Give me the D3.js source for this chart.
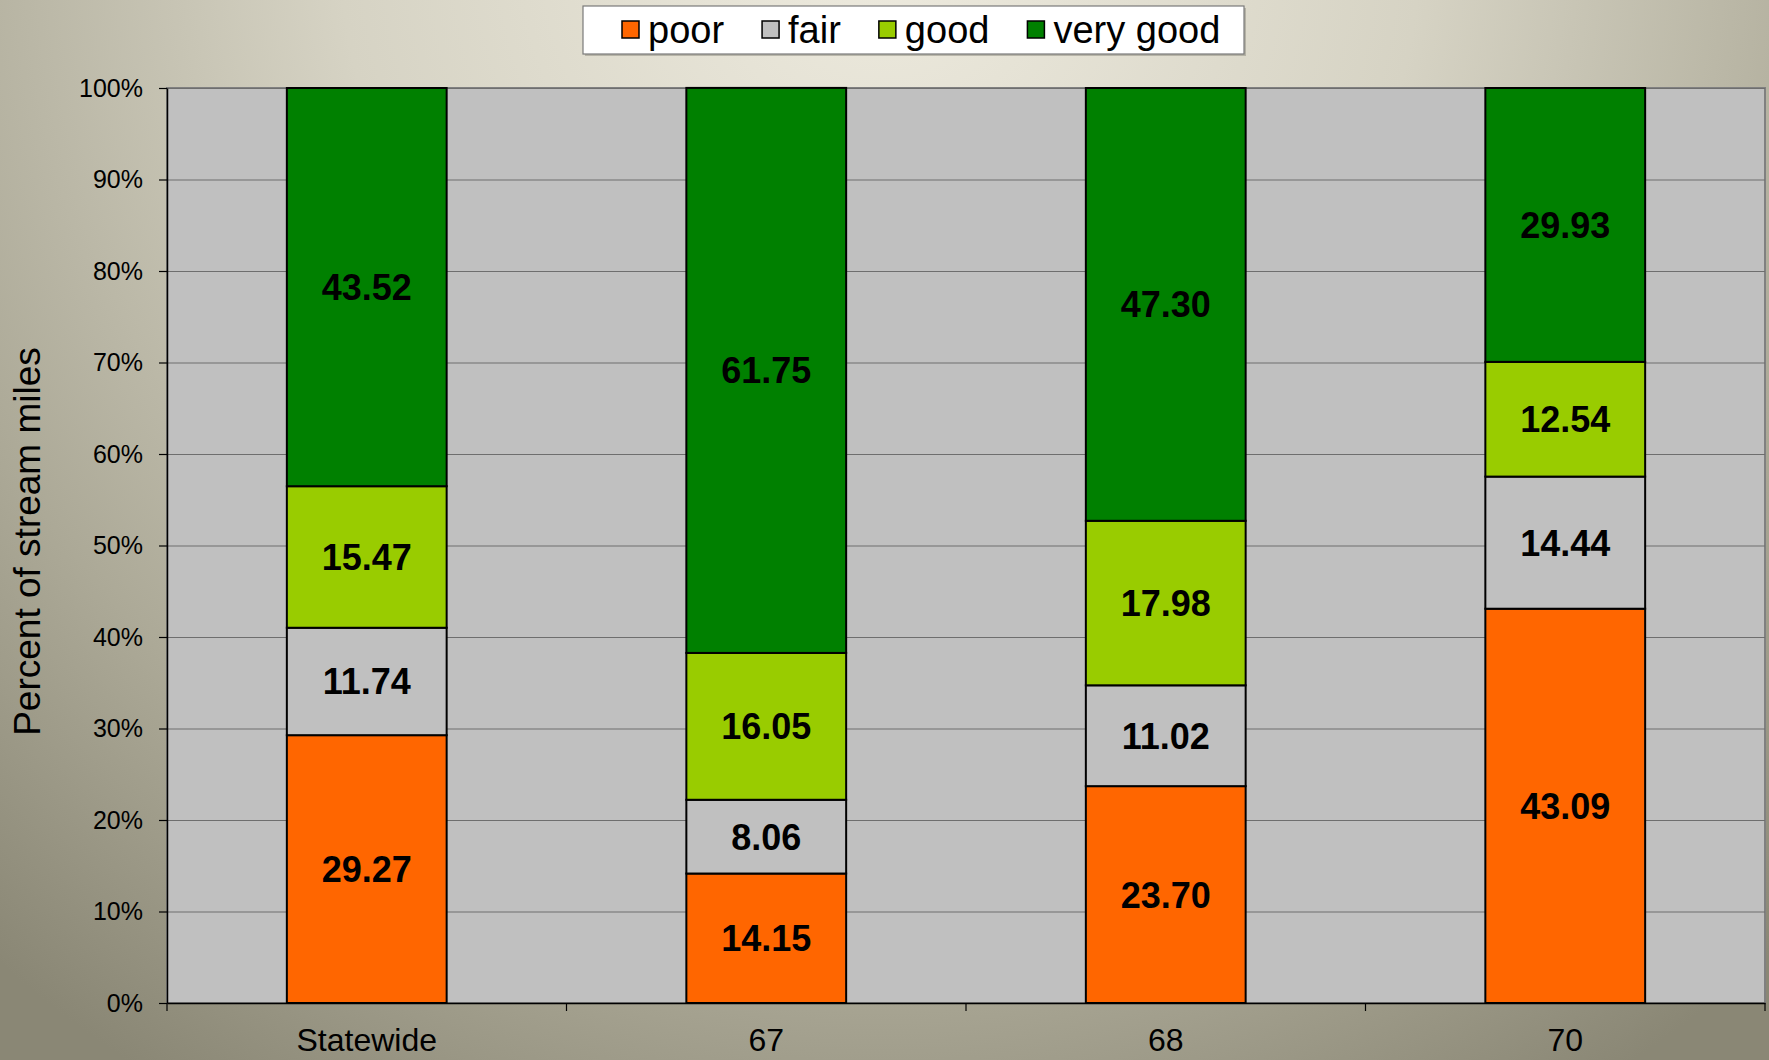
<!DOCTYPE html>
<html>
<head>
<meta charset="utf-8">
<script src="https://cdn.jsdelivr.net/npm/d3@7"></script>
<style>
  body { margin: 0; padding: 0; overflow: hidden; }
  svg { display: block; font-family: "Liberation Sans", Arial, sans-serif; }
</style>
</head>
<body>
<svg id="chart" width="1769" height="1060"></svg>
<script>
// data
var categories = ["Statewide", "67", "68", "70"];
var seriesNames = ["poor", "fair", "good", "very good"];
var seriesColors = ["#FF6600", "#C0C0C0", "#99CC00", "#008000"];
var poor     = [29.27, 14.15, 23.70, 43.09];
var fair     = [11.74,  8.06, 11.02, 14.44];
var good     = [15.47, 16.05, 17.98, 12.54];
var veryGood = [43.52, 61.75, 47.30, 29.93];
var yTicks = [0, 10, 20, 30, 40, 50, 60, 70, 80, 90, 100];

var seriesValues = [poor, fair, good, veryGood];
var rows = categories.map(function (c, i) {
    var r = { cat: c };
    seriesNames.forEach(function (s, j) { r[s] = seriesValues[j][i]; });
    return r;
});

var svg = d3.select("#chart"),
    W = +svg.attr("width"),
    H = +svg.attr("height");

// background gradient
var defs = svg.append("defs");
var bg = defs.append("radialGradient").attr("id", "bg")
    .attr("gradientUnits", "userSpaceOnUse")
    .attr("cx", 880).attr("cy", -60).attr("r", 1350);
bg.append("stop").attr("offset", "0%").attr("stop-color", "#EEEBDF");
bg.append("stop").attr("offset", "40%").attr("stop-color", "#D6D3C4");
bg.append("stop").attr("offset", "75%").attr("stop-color", "#ACA997");
bg.append("stop").attr("offset", "100%").attr("stop-color", "#8A8775");
svg.append("rect").attr("width", W).attr("height", H).attr("fill", "url(#bg)");

var plotL = 167, plotR = 1765, plotT = 88, plotB = 1003;

var x = d3.scaleBand().domain(categories).range([plotL, plotR]).padding(0);
var y = d3.scaleLinear().domain([0, 100]).range([plotB, plotT]);

// plot area
svg.append("rect")
    .attr("x", plotL).attr("y", plotT)
    .attr("width", plotR - plotL).attr("height", plotB - plotT)
    .attr("fill", "#C0C0C0")
    .attr("stroke", "#808080").attr("stroke-width", 2);

// gridlines
svg.append("g")
    .attr("transform", "translate(" + plotL + ",0)")
    .call(d3.axisLeft(y).tickValues(yTicks).tickFormat("").tickSizeInner(-(plotR - plotL)).tickSizeOuter(0))
    .call(function (g) {
        g.select(".domain").remove();
        g.selectAll("line").attr("stroke", "#6E6E6E").attr("stroke-width", 1.2);
    });

// bars
var stacked = d3.stack().keys(seriesNames)(rows);
var barW = x.bandwidth() * 0.4;

var layers = svg.append("g").selectAll("g")
    .data(stacked)
    .enter().append("g")
    .attr("fill", function (d, i) { return seriesColors[i]; });

layers.selectAll("rect")
    .data(function (d) { return d; })
    .enter().append("rect")
    .attr("x", function (d) { return x(d.data.cat) + (x.bandwidth() - barW) / 2; })
    .attr("y", function (d) { return y(d[1]); })
    .attr("width", barW)
    .attr("height", function (d) { return y(d[0]) - y(d[1]); })
    .attr("stroke", "#000")
    .attr("stroke-width", 2);

layers.selectAll("text")
    .data(function (d) { return d.map(function (p) { p.key = d.key; return p; }); })
    .enter().append("text")
    .attr("x", function (d) { return x(d.data.cat) + x.bandwidth() / 2; })
    .attr("y", function (d) { return y((d[0] + d[1]) / 2); })
    .attr("dy", "0.36em")
    .attr("text-anchor", "middle")
    .attr("fill", "#000")
    .attr("font-weight", "bold")
    .attr("font-size", "36px")
    .text(function (d) { return d.data[d.key].toFixed(2); });

// y axis
svg.append("g")
    .attr("transform", "translate(" + plotL + ",0)")
    .call(d3.axisLeft(y).tickValues(yTicks).tickFormat(function (d) { return d + "%"; }).tickSizeInner(8).tickSizeOuter(0).tickPadding(16))
    .call(function (g) {
        g.select(".domain").attr("stroke", "#000").attr("stroke-width", 1.5);
        g.selectAll("line").attr("stroke", "#000").attr("stroke-width", 1.2);
        g.selectAll("text").attr("font-size", "25px").attr("fill", "#000")
            .attr("font-family", "'Liberation Sans', Arial, sans-serif");
    });

// x axis: boundary ticks
var bounds = categories.map(function (c) { return x(c); }).concat([plotR]);
svg.append("g")
    .selectAll("line")
    .data(bounds)
    .enter().append("line")
    .attr("x1", function (d) { return d; }).attr("x2", function (d) { return d; })
    .attr("y1", plotB).attr("y2", plotB + 8)
    .attr("stroke", "#000").attr("stroke-width", 1.2);

svg.append("g")
    .attr("transform", "translate(0," + plotB + ")")
    .call(d3.axisBottom(x).tickSize(0).tickPadding(25))
    .call(function (g) {
        g.select(".domain").attr("stroke", "#000").attr("stroke-width", 1.5);
        g.selectAll("text").attr("font-size", "32px").attr("fill", "#000")
            .attr("font-family", "'Liberation Sans', Arial, sans-serif");
    });

// y title
svg.append("text")
    .attr("transform", "translate(40," + ((plotT + plotB) / 2 - 4) + ") rotate(-90)")
    .attr("text-anchor", "middle")
    .attr("font-size", "37px")
    .attr("fill", "#000")
    .text("Percent of stream miles");

// legend
var legend = svg.append("g");
var legShadow = legend.append("rect");
var legBox = legend.append("rect");
var items = legend.selectAll("g.item")
    .data(seriesNames)
    .enter().append("g").attr("class", "item");
items.append("rect")
    .attr("width", 17).attr("height", 17)
    .attr("y", 21)
    .attr("fill", function (d, i) { return seriesColors[i]; })
    .attr("stroke", "#000").attr("stroke-width", 1.5);
items.append("text")
    .attr("x", 26).attr("y", 43)
    .attr("font-size", "38px").attr("fill", "#000")
    .text(function (d) { return d; });

var offsets = [];
var cx = 0;
items.each(function () {
    var t = d3.select(this).select("text").node().getComputedTextLength();
    offsets.push(cx);
    cx += 26 + t + 38;
});
var legLeft = 622;
items.attr("transform", function (d, i) { return "translate(" + (legLeft + offsets[i]) + ",0)"; });
var boxX = 583, boxW = 661;
legShadow
    .attr("x", boxX + 2).attr("y", 8)
    .attr("width", boxW).attr("height", 48)
    .attr("fill", "#8C8A7E").attr("opacity", 0.5);
legBox
    .attr("x", boxX).attr("y", 6)
    .attr("width", boxW).attr("height", 48)
    .attr("fill", "#fff").attr("stroke", "#7A7A7A").attr("stroke-width", 1.2);
</script>
</body>
</html>
